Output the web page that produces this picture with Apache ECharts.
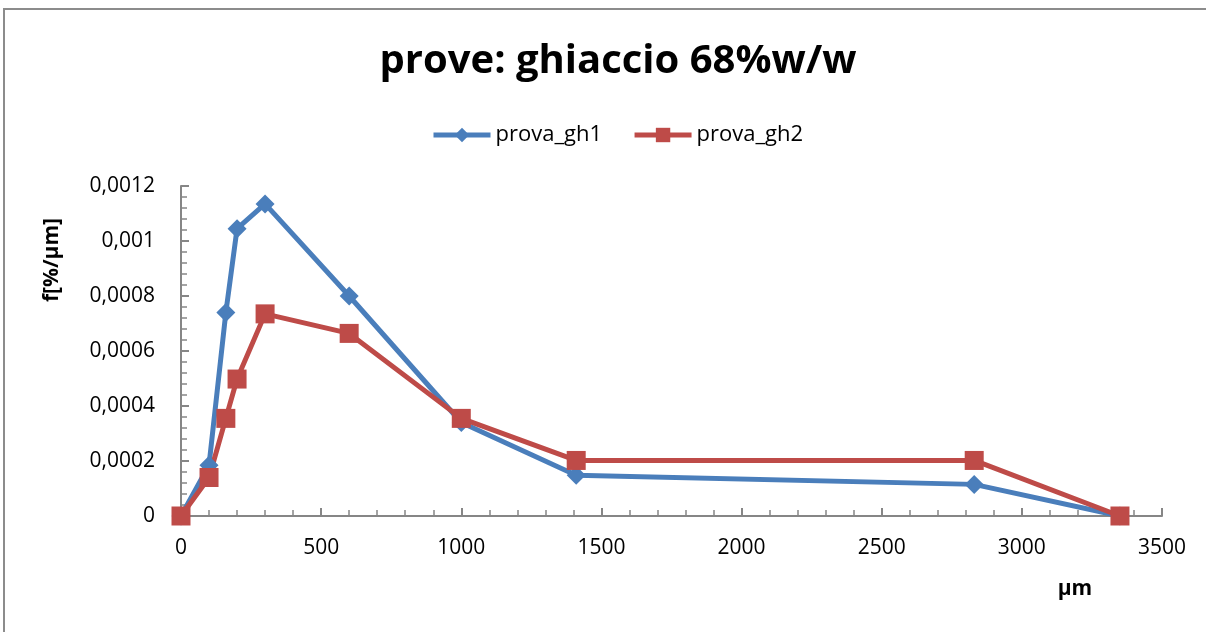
<!DOCTYPE html>
<html>
<head>
<meta charset="utf-8">
<script src="https://cdn.jsdelivr.net/npm/echarts@6/dist/echarts.min.js"></script>
<style>
  html, body { margin: 0; padding: 0; background: #fff; }
  #chart { width: 1206px; height: 632px; }
</style>
</head>
<body>
<div id="chart"></div>
<script>
// dati
const sizes = [0, 100, 160, 200, 300, 600, 1000, 1410, 2830, 3350]
const gh1 = [0, 0.000185, 0.00074, 0.001045, 0.001135, 0.0008, 0.00034, 0.000148, 0.000115, 0]
const gh2 = [0, 0.00014, 0.000355, 0.000498, 0.000735, 0.000664, 0.000355, 0.000202, 0.000202, 0]
const seriesNames = ['prova_gh1', 'prova_gh2']
const colors = ['#4a7ebb', '#be4b48']

const font = '"Open Sans", "Noto Sans", sans-serif'

function pairs (xs, ys) {
  return xs.map((x, i) => [x, ys[i]])
}

function fmt (v) {
  return String(parseFloat(v.toFixed(6))).replace('.', ',')
}

const chart = echarts.init(document.getElementById('chart'))
chart.setOption({
  animation: false,
  color: colors,
  title: {
    text: 'prove: ghiaccio 68%w/w',
    left: 613,
    textAlign: 'center',
    top: 37,
    textStyle: { fontFamily: font, fontSize: 40, fontWeight: 'bold', color: '#000' }
  },
  legend: {
    top: 119,
    left: 426,
    itemWidth: 57,
    itemHeight: 18,
    itemGap: 30,
    lineStyle: { width: 5 },
    textStyle: { fontFamily: font, fontSize: 22, color: '#000' },
    data: seriesNames
  },
  grid: { left: 181, right: 44, top: 186, bottom: 116 },
  xAxis: {
    type: 'value',
    min: 0,
    max: 3500,
    interval: 500,
    axisLine: { lineStyle: { color: '#868686', width: 2 } },
    axisTick: { inside: true, length: 8, lineStyle: { color: '#868686', width: 2 } },
    minorTick: { show: true, splitNumber: 5, length: 6, lineStyle: { color: '#868686', width: 1.5 } },
    splitLine: { show: false },
    axisLabel: { fontFamily: font, fontSize: 21, color: '#000', margin: 22, formatter: v => String(v) }
  },
  yAxis: {
    type: 'value',
    min: 0,
    max: 0.0012,
    interval: 0.0002,
    axisLine: { show: true, lineStyle: { color: '#868686', width: 2 } },
    axisTick: { show: true, inside: true, length: 8, lineStyle: { color: '#868686', width: 2 } },
    minorTick: { show: true, splitNumber: 5, length: 6, lineStyle: { color: '#868686', width: 1.5 } },
    splitLine: { show: false },
    axisLabel: { fontFamily: font, fontSize: 21, color: '#000', margin: 26, formatter: fmt }
  },
  graphic: [
    {
      type: 'rect',
      shape: { x: 4, y: 9, width: 1220, height: 640 },
      style: { fill: 'none', stroke: '#8c8c8c', lineWidth: 2 },
      silent: true
    },
    {
      type: 'text',
      x: 52,
      y: 260,
      rotation: Math.PI / 2,
      style: {
        text: 'f[%/µm]',
        fontFamily: font,
        fontSize: 21,
        fontWeight: 'bold',
        fill: '#000',
        align: 'center',
        verticalAlign: 'middle'
      }
    },
    {
      type: 'text',
      x: 1075,
      y: 589,
      style: {
        text: 'µm',
        fontFamily: font,
        fontSize: 21,
        fontWeight: 'bold',
        fill: '#000',
        align: 'center',
        verticalAlign: 'middle'
      }
    }
  ],
  series: [
    {
      name: seriesNames[0],
      type: 'line',
      data: pairs(sizes, gh1),
      symbol: 'diamond',
      symbolSize: 19,
      lineStyle: { width: 5 },
      itemStyle: { color: colors[0] }
    },
    {
      name: seriesNames[1],
      type: 'line',
      data: pairs(sizes, gh2),
      symbol: 'rect',
      symbolSize: 19,
      lineStyle: { width: 5 },
      itemStyle: { color: colors[1] }
    }
  ]
})
</script>
</body>
</html>
